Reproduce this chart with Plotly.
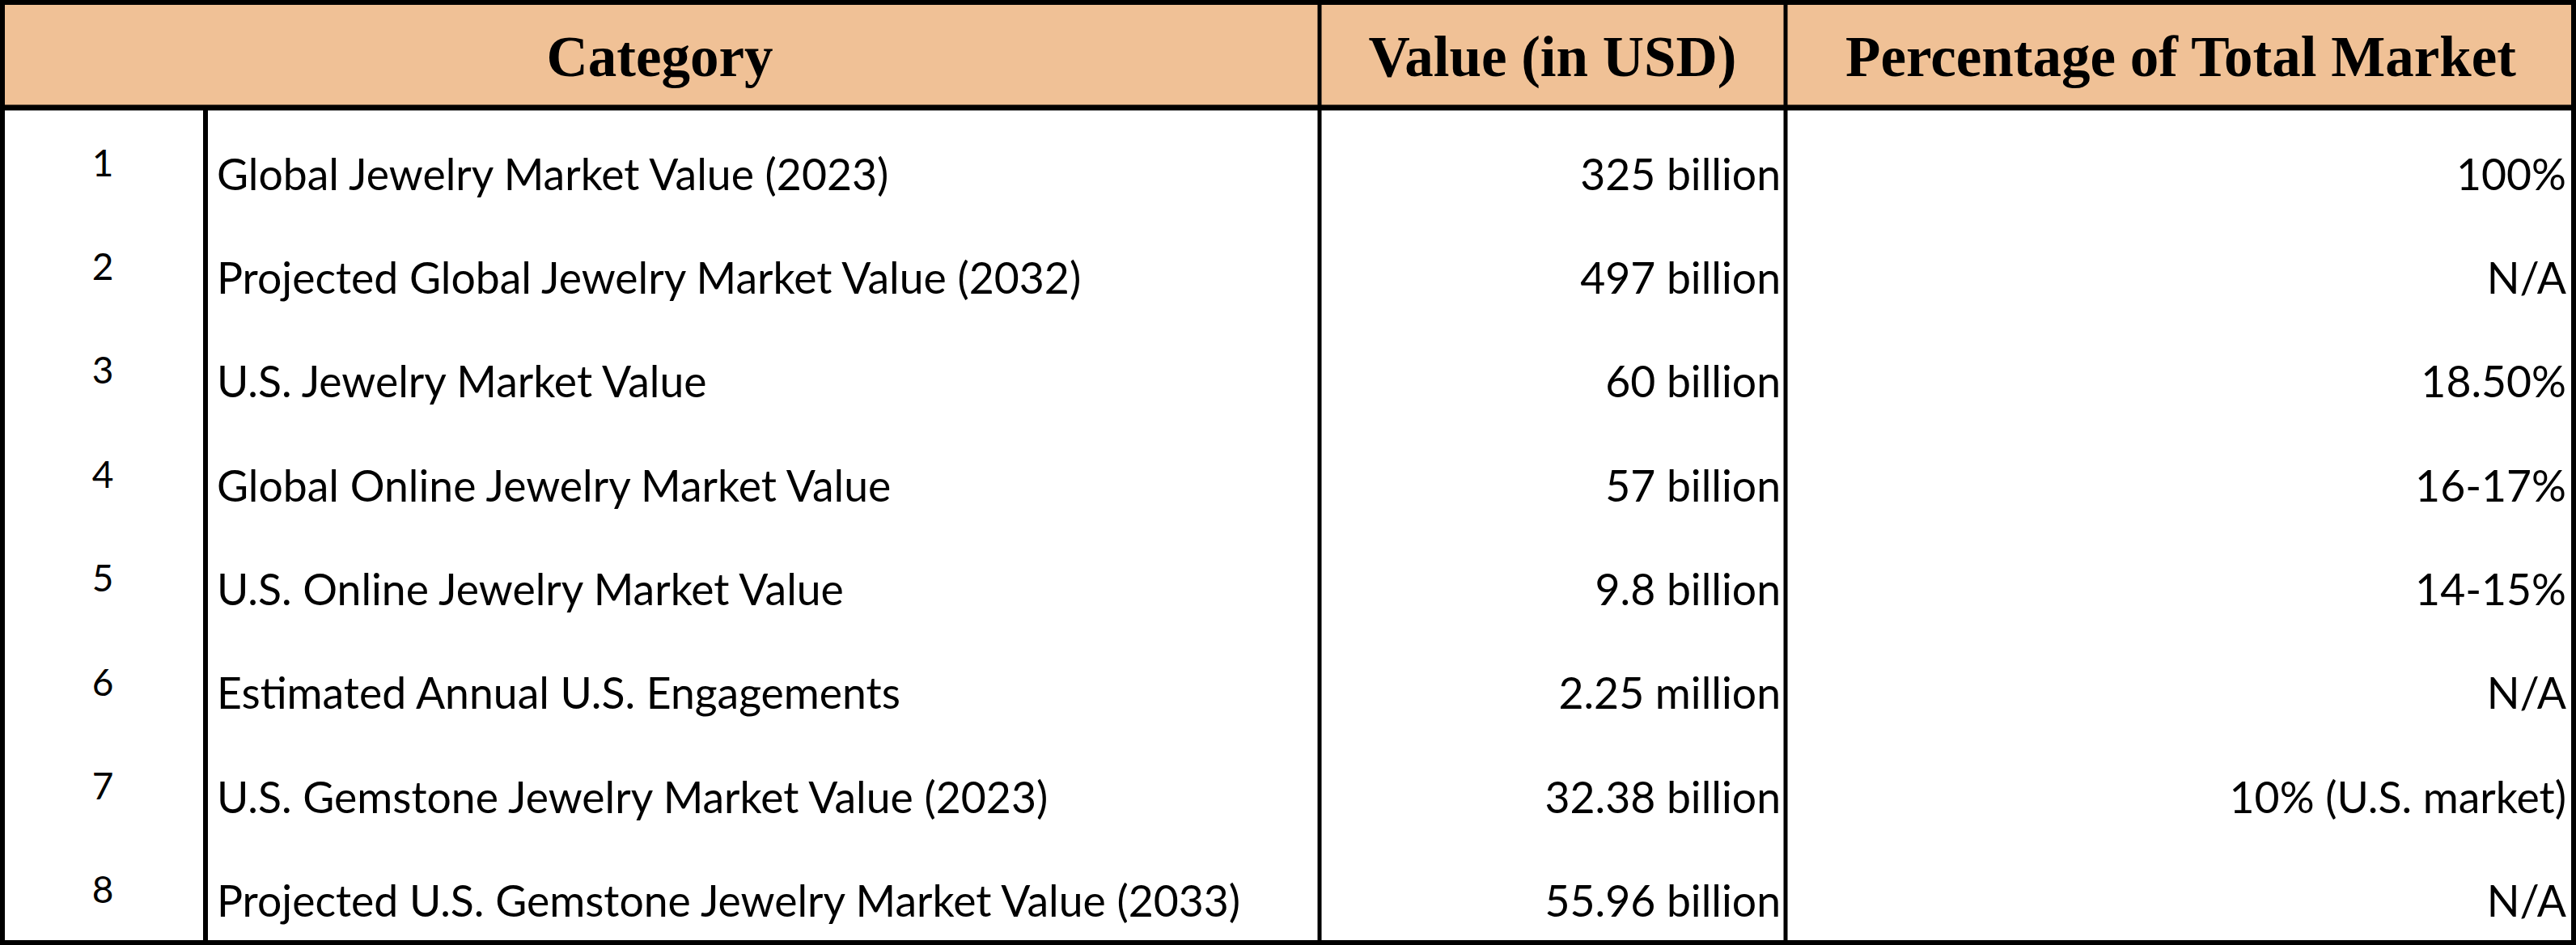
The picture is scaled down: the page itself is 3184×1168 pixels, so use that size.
import plotly.graph_objects as go

# ---- data ----
row_numbers = [1, 2, 3, 4, 5, 6, 7, 8]
categories = [
    "Global Jewelry Market Value (2023)",
    "Projected Global Jewelry Market Value (2032)",
    "U.S. Jewelry Market Value",
    "Global Online Jewelry Market Value",
    "U.S. Online Jewelry Market Value",
    "Estimated Annual U.S. Engagements",
    "U.S. Gemstone Jewelry Market Value (2023)",
    "Projected U.S. Gemstone Jewelry Market Value (2033)",
]
values = [
    "325 billion", "497 billion", "60 billion", "57 billion",
    "9.8 billion", "2.25 million", "32.38 billion", "55.96 billion",
]
percentages = [
    "100%", "N/A", "18.50%", "16-17%", "14-15%", "N/A",
    "10% (U.S. market)", "N/A",
]
headers = ["Category", "Value (in USD)", "Percentage of Total Market"]

# ---- layout constants (pixels) ----
W, H = 3184, 1168
BORDER = 6
HEADER_BOTTOM = 131
BODY_TOP = 135
BODY_BOTTOM = H - BORDER
X_IDX = 254
X_VAL = 1631
X_PCT = 2207
HEADER_FILL = "#F0C196"
BODY_FONT = "Lato, 'Open Sans', sans-serif"
HEAD_FONT = "'Liberation Serif', 'DejaVu Serif', serif"

n = len(categories)
row_h = (BODY_BOTTOM - BODY_TOP) / n
row_y = [BODY_TOP + (i + 0.5) * row_h + 22 for i in range(n)]
idx_y = [y - 15 for y in row_y]

fig = go.Figure()

# header text
fig.add_trace(go.Scatter(
    x=[X_VAL / 2, (X_VAL + X_PCT) / 2, (X_PCT + W) / 2],
    y=[(BORDER + HEADER_BOTTOM) / 2 + 8] * 3,
    mode="text", text=headers, textposition="middle center",
    textfont=dict(family=HEAD_FONT, size=71, color="black", weight="bold"),
    hoverinfo="skip",
))
# index column
fig.add_trace(go.Scatter(
    x=[X_IDX / 2] * n, y=idx_y, mode="text",
    text=[str(r) for r in row_numbers], textposition="middle center",
    textfont=dict(family=BODY_FONT, size=46, color="black"),
    hoverinfo="skip",
))
# category column
fig.add_trace(go.Scatter(
    x=[X_IDX + 14] * n, y=row_y, mode="text",
    text=categories, textposition="middle right",
    textfont=dict(family=BODY_FONT, size=53.5, color="black"),
    hoverinfo="skip",
))
# value column
fig.add_trace(go.Scatter(
    x=[X_PCT - 6] * n, y=row_y, mode="text",
    text=values, textposition="middle left",
    textfont=dict(family=BODY_FONT, size=53.5, color="black"),
    hoverinfo="skip",
))
# percentage column
fig.add_trace(go.Scatter(
    x=[W - BORDER - 6] * n, y=row_y, mode="text",
    text=percentages, textposition="middle left",
    textfont=dict(family=BODY_FONT, size=53.5, color="black"),
    hoverinfo="skip",
))

shapes = [
    # header fill
    dict(type="rect", x0=0, x1=W, y0=0, y1=HEADER_BOTTOM + 2,
         fillcolor=HEADER_FILL, line=dict(width=0), layer="below"),
    # header bottom rule
    dict(type="line", x0=0, x1=W, y0=HEADER_BOTTOM + 2, y1=HEADER_BOTTOM + 2,
         line=dict(color="black", width=7)),
    # index divider (body only)
    dict(type="line", x0=X_IDX, x1=X_IDX, y0=HEADER_BOTTOM, y1=H,
         line=dict(color="black", width=6)),
    # value / percentage dividers
    dict(type="line", x0=X_VAL, x1=X_VAL, y0=0, y1=H,
         line=dict(color="black", width=5)),
    dict(type="line", x0=X_PCT, x1=X_PCT, y0=0, y1=H,
         line=dict(color="black", width=5)),
    # outer border
    dict(type="rect", x0=BORDER / 2, x1=W - BORDER / 2,
         y0=BORDER / 2, y1=H - BORDER / 2,
         line=dict(color="black", width=BORDER)),
]

fig.update_layout(
    width=W, height=H,
    margin=dict(l=0, r=0, t=0, b=0),
    paper_bgcolor="white", plot_bgcolor="white",
    showlegend=False, hovermode=False,
    shapes=shapes,
    xaxis=dict(range=[0, W], visible=False, fixedrange=True),
    yaxis=dict(range=[H, 0], visible=False, fixedrange=True),
)

fig.write_html(
    "out.html",
    config={"displayModeBar": False, "staticPlot": True},
    post_script="document.body.style.margin='0';document.body.style.overflow='hidden';",
)
